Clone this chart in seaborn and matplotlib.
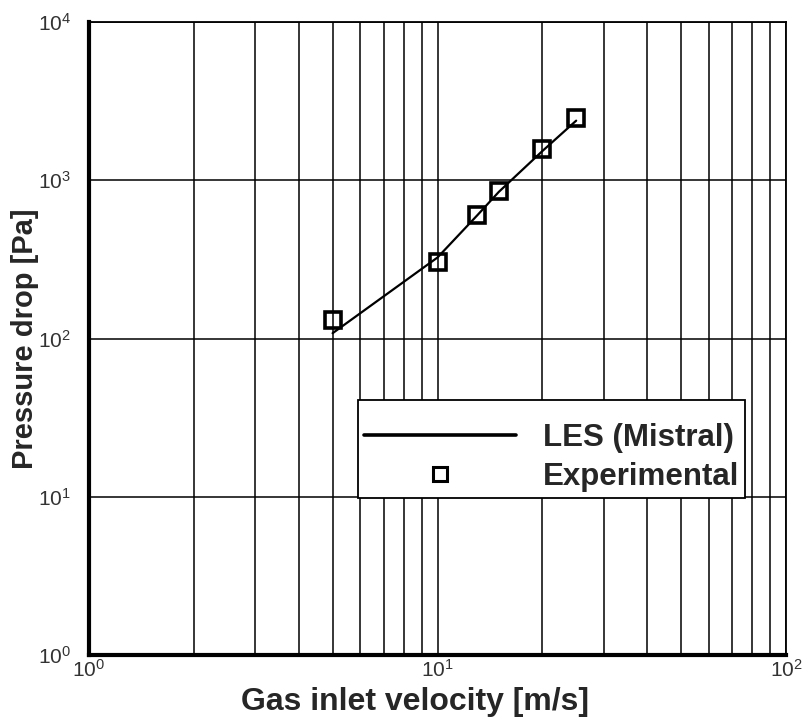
import matplotlib
matplotlib.use("Agg")
import matplotlib.pyplot as plt
import seaborn as sns
import numpy as np
import pandas as pd
from matplotlib.ticker import LogLocator, NullFormatter

# Data
les_velocity = [5, 10, 13, 15, 20, 25]
les_pressure = [108, 325, 600, 845, 1530, 2380]
exp_velocity = [5, 10, 13, 15, 20, 25]
exp_pressure = [130, 305, 605, 855, 1580, 2470]
x_label = "Gas inlet velocity [m/s]"
y_label = "Pressure drop [Pa]"
les_name = "LES (Mistral)"
exp_name = "Experimental"

sns.set_style("white")
plt.rcParams['font.family'] = ['Liberation Sans', 'DejaVu Sans']
plt.rcParams['mathtext.fontset'] = 'custom'
plt.rcParams['mathtext.rm'] = 'Liberation Sans'
plt.rcParams['mathtext.it'] = 'Liberation Sans'

fig = plt.figure(figsize=(8.08, 7.2), dpi=100)
ax = fig.add_axes([89/808, 1-655/720, (786-89)/808, (655-22)/720])

les_df = pd.DataFrame({"v": les_velocity, "p": les_pressure})
exp_df = pd.DataFrame({"v": exp_velocity, "p": exp_pressure})

sns.lineplot(data=les_df, x="v", y="p", ax=ax, color="black", linewidth=1.6,
             label=les_name, zorder=3)
ax.plot(exp_df["v"], exp_df["p"], linestyle="none", marker="s", markersize=12,
        markerfacecolor="none", markeredgecolor="black", markeredgewidth=2.6,
        label=exp_name, zorder=4)

ax.set_xscale("log")
ax.set_yscale("log")
ax.set_xlim(1, 100)
ax.set_ylim(1, 1e4)

ax.xaxis.set_major_locator(LogLocator(base=10, numticks=10))
ax.xaxis.set_minor_locator(LogLocator(base=10, subs=np.arange(2, 10), numticks=10))
ax.xaxis.set_minor_formatter(NullFormatter())
ax.yaxis.set_major_locator(LogLocator(base=10, numticks=10))
ax.yaxis.set_minor_locator(LogLocator(base=10, subs=np.arange(2, 10), numticks=10))
ax.yaxis.set_minor_formatter(NullFormatter())

ax.grid(True, which="major", axis="both", color="black", linewidth=1.1)
ax.grid(True, which="minor", axis="x", color="black", linewidth=1.1)
ax.set_axisbelow(True)

ax.tick_params(axis="both", which="major", direction="in", length=7, width=2.5,
               labelsize=15, pad=3, colors="black")
ax.tick_params(axis="x", which="major", labelcolor="#333333")
ax.tick_params(axis="y", which="major", labelcolor="#333333", length=0, pad=13)
ax.tick_params(axis="both", which="minor", length=0)

for side in ["left", "bottom"]:
    ax.spines[side].set_linewidth(3)
    ax.spines[side].set_color("black")
for side in ["top", "right"]:
    ax.spines[side].set_linewidth(1.3)
    ax.spines[side].set_color("black")

ax.set_xlabel(x_label, fontsize=23, fontweight="bold")
ax.set_ylabel(y_label, fontsize=21, fontweight="bold")
ax.xaxis.set_label_coords((415-89)/697, -0.05)
ax.yaxis.set_label_coords((39-89)/697, 0.5)

leg = ax.legend(loc="upper left", bbox_to_anchor=((358-89)/697, 1-(400-22)/633),
                frameon=True, fancybox=False, framealpha=1, edgecolor="black",
                prop={"weight": "bold", "size": 22.5},
                title=" ", title_fontsize=6,
                handlelength=4.87, handletextpad=0.84, borderpad=0.2,
                labelspacing=0.3, markerscale=0.8, borderaxespad=0)
leg.get_frame().set_linewidth(1.3)
leg.get_lines()[0].set_linewidth(2.6)
leg.get_lines()[1].set_markeredgewidth(2.2)

fig.savefig("out.png", dpi=100)
